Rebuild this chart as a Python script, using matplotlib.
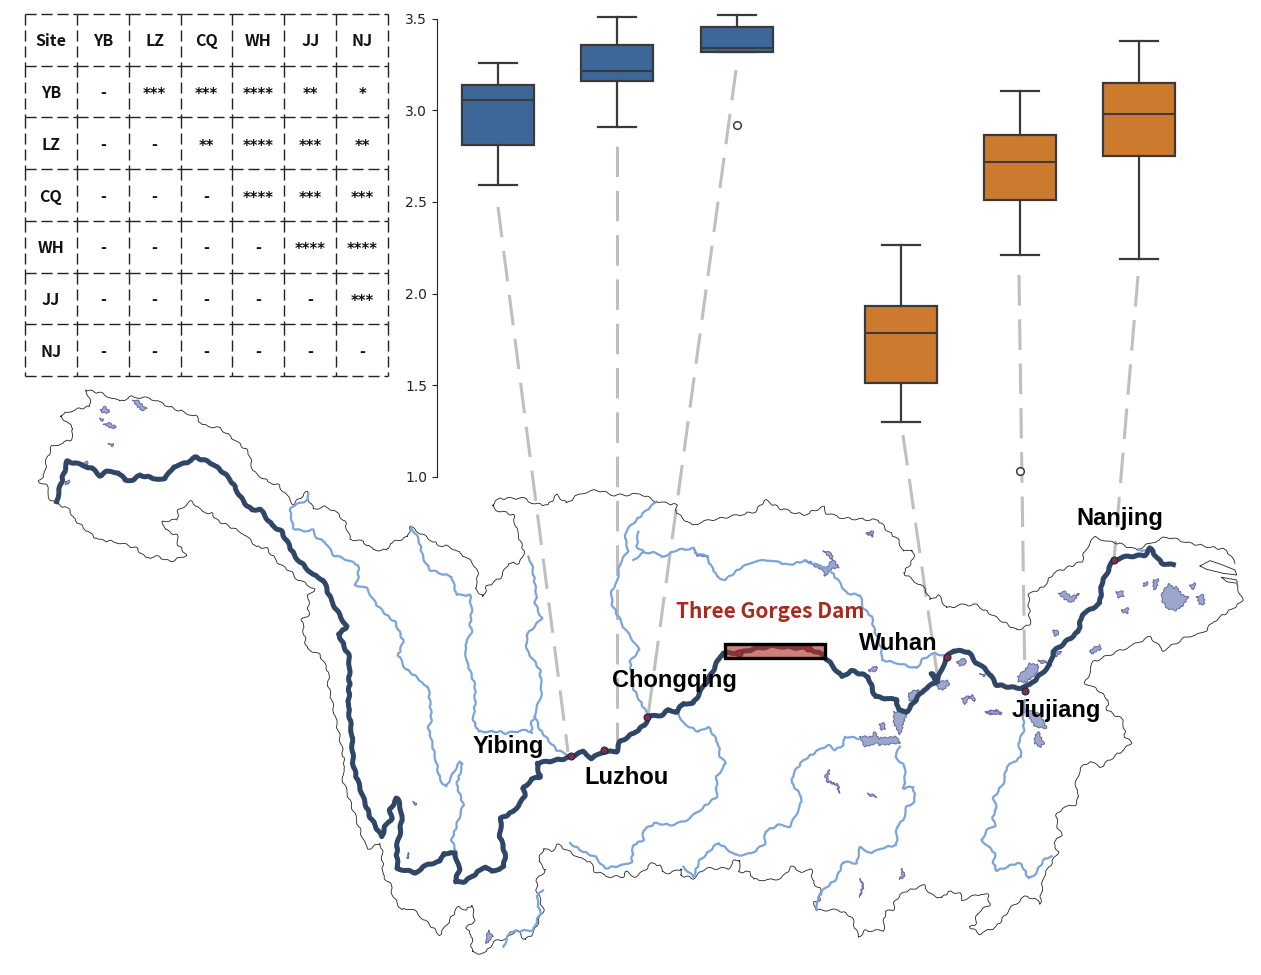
"""
Box plots of six Yangtze sites, with their significance table and the basin map
"""

import matplotlib
matplotlib.use("Agg")
import matplotlib.pyplot as plt
from matplotlib.patches import Polygon, Rectangle

W, H = 1261, 975

# Box plot values
sites = ["YB", "LZ", "CQ", "WH", "JJ", "NJ"]
box_pos = [498, 617, 737, 901, 1020, 1139]
whislo = [2.59, 2.91, 3.32, 1.30, 2.21, 2.19]
q1 = [2.81, 3.16, 3.32, 1.51, 2.51, 2.75]
med = [3.055, 3.215, 3.34, 1.785, 2.72, 2.98]
q3 = [3.14, 3.355, 3.455, 1.93, 2.865, 3.15]
whishi = [3.26, 3.51, 3.52, 2.265, 3.105, 3.375]
fliers = [[], [], [2.92], [], [1.03], []]
box_colors = ["#3d6799", "#3d6799", "#3d6799", "#cc7b2e", "#cc7b2e", "#cc7b2e"]
yticks = [1.0, 1.5, 2.0, 2.5, 3.0, 3.5]

# Significance table
table_header = ["Site", "YB", "LZ", "CQ", "WH", "JJ", "NJ"]
table_rows = [
    ["YB", "-", "***", "***", "****", "**", "*"],
    ["LZ", "-", "-", "**", "****", "***", "**"],
    ["CQ", "-", "-", "-", "****", "***", "***"],
    ["WH", "-", "-", "-", "-", "****", "****"],
    ["JJ", "-", "-", "-", "-", "-", "***"],
    ["NJ", "-", "-", "-", "-", "-", "-"],
]

# Map outlines, traced in image pixels (x0, y0 is the corner of each 3x trace)
def trace(x0, y0, pts):
    return [(x0 + x/3., y0 + y/3.) for x, y in pts]

boundary = (
    trace(30, 385, [(167,15),(180,40),(178,65),(130,75),(90,92),(130,130),(122,165),(65,185),(48,230),
                    (45,265),(27,290),(50,300),(60,345),(120,375),(130,400),(180,445),(205,465),(255,470),
                    (290,480),(320,490),(345,518),(385,515),(420,530),(470,510),(445,480),(440,450),(405,435),
                    (398,408),(440,405),(445,375),(485,348),(515,380),(545,385),(560,405),(600,425),(640,445),
                    (680,485),(710,490),(750,540),(785,560),(790,575),(855,612),(835,630),(835,690),(815,705),
                    (830,790),(870,810),(895,860),(895,900)])
    + trace(340, 680, [(5,200),(15,260),(5,290),(25,350),(50,420),(75,495),(85,507),(120,490),(125,500),(130,590),
                       (150,610),(160,650),(185,690),(215,685),(270,735),(300,765),(355,680),(380,690),(395,675),
                       (405,720),(378,745),(395,765),(395,815),(415,820),(440,815),(460,785),(500,775),(530,750),
                       (555,780),(580,760),(610,690),(590,630),(590,600),(618,570),(595,545),(610,505),(635,515),
                       (652,493),(720,535),(750,545),(765,575),(810,590),(850,590),(860,575),(885,590),(910,575),
                       (935,550),(960,555),(965,575),(990,580),(1025,565),(1020,585),(1060,595),(1095,565),
                       (1165,565),(1185,540),(1200,540),(1195,575)])
    + trace(740, 700, [(30,517),(40,538),(85,540),(125,535),(155,500),(185,515),(215,510),(220,550),(240,565),
                       (240,600),(222,605),(230,630),(295,630),(335,650),(355,712),(375,692),(430,692),(435,635),
                       (460,630),(465,600),(495,575),(555,555),(565,580),(605,595),(625,575),(660,580),(665,600),
                       (720,582),(745,585),(748,615),(710,640),(708,670),(690,682),(720,702),(770,680),(810,625),
                       (855,590),(885,595),(900,612),(905,570),(910,530),(955,455),(940,430),(965,405),(950,375),
                       (950,345),(965,325),(1005,315),(1018,290),(1005,260),(1020,205),(1050,183),(1080,203),
                       (1115,175),(1175,130),(1155,110),(1150,60),(1100,30),(1105,0)])
    + trace(760, 480, [(1015,630),(975,610),(990,575),(1000,545),(1120,495),(1170,470),(1210,512),(1280,470),
                       (1330,460),(1360,425),(1440,370),(1447,360),(1430,315)])
)

# The coast is open at the river mouth, so the north side is a line of its own
boundary_north = (
    trace(760, 480, [(1425,250),(1400,210),(1290,190),
                     (1220,170),(1170,190),(1130,210),(1075,190),(1040,185),(1005,170),(975,210),(965,245),
                     (880,280),(850,320),(805,345),(810,435),(770,450),(720,420),(650,375),(600,375),(560,385),
                     (535,345),(510,360),(495,325),(430,280),(462,235),(458,210),(430,215),(415,180),(380,150),
                     (355,120),(250,115),(200,100),(190,80),(130,105),(60,85),(15,60)])
    + trace(480, 480, [(825,95),(750,110),(690,120),(635,135),(590,100),(590,75),(530,65),(480,40),(440,45),
                       (400,45),(350,30),(300,40),(260,70),(230,45),(205,75),(165,72),(130,55),(60,55),(35,75),
                       (50,90),(100,105),(110,150),(132,215),(120,250),(85,250),(60,295),(20,320),(10,350)])
    + trace(30, 385, [(1335,610),(1345,570),(1330,535),(1305,515),(1260,485),(1225,480),(1180,450),(1140,425),
                      (1135,455),(1080,475),(1070,495),(1030,495),(1000,470),(960,462),(945,410),(915,378),
                      (885,365),(850,372),(835,340),(830,320),(790,358),(745,300),(715,290),(670,260),(655,200),
                      (620,170),(570,130),(515,120),(500,95),(430,70),(360,40),(300,35),(270,50),(215,25),(167,15)])
)

# Islands in the river mouth
mouth_isles = [
    trace(760, 480, [(1320,258),(1350,242),(1380,252),(1425,270),(1430,285),(1390,280),(1340,268)]),
    trace(760, 480, [(1385,292),(1430,300),(1432,310),(1400,305)]),
]

main_river = (
    trace(30, 385, [(80,350),(85,325),(100,270),(112,228),(155,240),(185,250),(210,272),(230,260),(265,262),
                    (285,285),(310,285),(330,270),(370,280),(405,282),(430,245),(465,235),(497,217),(540,232),
                    (580,262),(605,290),(640,350),(665,375),(690,372),(725,420),(755,440),(795,515),(850,570),
                    (880,585),(905,650),(950,725),(935,740),(925,745),(945,790),(958,815),(958,900)])
    + trace(340, 680, [(25,80),(35,160),(40,260),(65,340),(90,410),(125,470),(135,440),(155,415),(150,390),(170,355),
                       (180,370),(185,420),(178,470),(170,500),(172,565),(225,578),(265,552),(300,545),(310,520),
                       (345,520),(358,570),(345,605),(375,605),(435,560),(455,575),(492,560),(495,520),(480,470),
                       (483,415),(520,395),(555,350),(550,325),(575,298),(600,290),(590,250),(680,235),(730,215),
                       (755,235),(790,215),(830,215),(840,185),(880,160),(915,135),(925,110),(965,105),(985,90),
                       (1010,95),(1030,70),(1060,70),(1090,20)])
    + trace(480, 480, [(690,590),(720,530),(730,520),(780,518),(830,505),(880,498),(985,505),(1030,525)])
    + trace(760, 480, [(245,590),(275,572),(325,590),(345,650),(410,660),(415,690),(440,695),(490,630),(530,605),
                       (515,580),(530,605),(560,530),(580,512),(625,515),(650,550),(680,570),(710,615),(775,625),
                       (810,615),(870,555),(880,515),(955,455),(965,405),(1020,370),(1025,310),(1060,240),(1100,230),
                       (1155,225),(1170,205),(1205,250),(1240,255)])
)

tributaries = [
    trace(30, 385, [(835,325),(835,345),(790,362),(780,375),(790,430),(815,438),(850,435),(860,460),(885,470),
                    (910,510),(940,520),(985,540),(985,575),(975,600),(1010,610),(1040,660),(1080,700),(1095,710),
                    (1120,770),(1105,810),(1125,850),(1165,880),(1180,900)])
    + trace(340, 680, [(265,20),(275,120),(265,140),(285,230),(300,300),(318,320),(345,270),(360,245),(368,250),
                       (350,315),(370,375),(335,480),(348,515)]),
    trace(30, 385, [(1142,425),(1165,460),(1180,520),(1200,555),(1265,575),(1280,630),(1320,630),(1325,680),
                    (1320,720),(1325,740),(1305,780),(1310,830),(1335,900)])
    + trace(340, 680, [(405,70),(400,120),(415,155),(480,155),(495,160),(560,150),(575,160),(575,125),(585,110)]),
    trace(480, 480, [(145,230),(155,250),(170,345),(165,370),(185,415),(140,465),(140,510),(180,570),(185,640),(165,700)])
    + trace(340, 680, [(585,110),(600,150),(650,210),(690,225)]),
    trace(480, 480, [(530,65),(500,90),(440,150),(435,175),(445,210),(420,250),(410,310),(395,330),(395,370),
                     (430,440),(465,490),(478,510),(450,545),(460,625),(500,700)]),
    trace(480, 480, [(475,155),(470,200),(490,215)]),
    trace(480, 480, [(460,240),(490,218),(530,218),(545,232),(590,210),(640,205),(650,220),(685,230),(685,250),
                     (700,265),(710,290),(735,300),(780,265),(820,245),(870,240),(925,255),(975,242),(1050,270)])
    + trace(760, 480, [(240,310),(260,340),(300,345),(310,385),(335,410),(340,440),(365,510),(365,540),(415,550),
                       (470,565),(490,535),(525,520),(560,530)]),
    trace(340, 680, [(1015,100),(1030,130),(1075,155),(1105,140),(1135,190),(1140,230),(1158,250),(1130,290),
                     (1130,350),(1080,390),(1040,420),(1000,435),(945,430),(910,450),(910,480),(880,495),(875,545),
                     (850,555),(795,565),(765,530),(730,515),(690,490)]),
    trace(340, 680, [(1030,560),(1060,590),(1080,540),(1135,488),(1185,525),(1210,525)])
    + trace(740, 700, [(35,460),(75,430),(75,395),(115,375),(150,380),(180,320),(185,290),(155,250),(160,220),
                       (190,180),(245,145),(265,135),(285,150),(310,135),(315,110),(355,115)]),
    trace(740, 700, [(480,140),(465,170),(495,200),(495,240),(490,265),(520,260),(525,305),(500,320),(490,360),
                     (470,380),(470,435),(420,445),(395,460),(360,442),(350,490),(310,485),(290,535),(245,575),
                     (228,610),(232,630)]),
    trace(740, 700, [(855,0),(850,55),(852,90),(835,130),(845,170),(800,200),(790,250),(760,295),(770,325),(758,350),
                     (765,378),(740,390),(725,420),(765,460),(760,490),(770,512),(830,490),(845,492),(865,535),
                     (880,530),(915,475),(935,470)]),
    trace(340, 680, [(490,800),(510,755),(580,750),(600,700),(590,650),(608,630)]),
    trace(760, 480, [(1135,210),(1160,210)]),
]

lakes = [
    trace(30, 385, [(210,75),(225,65),(240,80),(220,85)]),
    trace(30, 385, [(208,100),(220,102),(215,108)]),
    trace(30, 385, [(220,117),(240,115),(260,125),(245,130)]),
    trace(30, 385, [(235,175),(250,178),(245,185)]),
    trace(30, 385, [(307,45),(325,48),(350,72),(335,77)]),
    trace(30, 385, [(105,290),(118,285),(115,298),(105,298)]),
    trace(30, 385, [(155,235),(172,230),(172,240)]),
    trace(760, 480, [(1205,340),(1220,320),(1228,310),(1240,325),(1250,320),(1265,345),(1285,350),(1270,375),
                     (1245,393),(1220,385),(1205,360)]),
    trace(760, 480, [(895,340),(915,335),(935,350),(958,340),(935,368),(915,358)]),
    trace(760, 480, [(1068,335),(1090,335),(1090,350),(1075,352)]),
    trace(760, 480, [(1085,390),(1105,385),(1105,400),(1090,398)]),
    trace(760, 480, [(1150,310),(1162,305),(1160,318),(1152,320)]),
    trace(760, 480, [(1180,300),(1195,298),(1190,325),(1180,328)]),
    trace(760, 480, [(1290,315),(1305,310),(1305,325),(1295,328)]),
    trace(760, 480, [(1310,350),(1330,345),(1335,370),(1320,375)]),
    trace(760, 480, [(880,450),(892,450),(895,465),(882,468)]),
    trace(760, 480, [(990,510),(1020,495),(1025,505),(995,522)]),
    trace(760, 480, [(772,590),(790,575),(810,550),(835,555),(830,580),(800,605),(775,605)]),
    trace(760, 480, [(835,540),(860,545),(865,550),(840,548)]),
    trace(760, 480, [(880,520),(905,515),(890,530)]),
    trace(760, 480, [(590,545),(615,535),(620,550),(600,558)]),
    trace(760, 480, [(660,580),(675,585),(670,590)]),
    trace(760, 480, [(530,610),(560,600),(570,610),(550,630),(535,625)]),
    trace(760, 480, [(445,640),(475,628),(475,650),(450,665)]),
    trace(760, 480, [(605,655),(640,645),(645,665),(625,650),(615,675)]),
    trace(760, 480, [(675,695),(710,690),(725,700),(690,702)]),
    trace(760, 480, [(320,158),(335,155),(340,170),(325,165)]),
    trace(760, 480, [(325,570),(350,558),(352,572),(330,575)]),
    trace(740, 700, [(358,110),(395,110),(405,95),(415,115),(470,110),(480,130),(420,135),(410,130),(375,140)]),
    trace(740, 700, [(460,35),(500,40),(490,70),(480,105),(462,70)]),
    trace(740, 700, [(418,72),(430,68),(437,85),(425,92)]),
    trace(740, 700, [(860,30),(900,40),(920,85),(885,80),(870,55)]),
    trace(740, 700, [(885,105),(895,95),(912,130),(900,142),(885,130)]),
    trace(740, 700, [(740,35),(775,32),(785,42),(750,42)]),
    trace(740, 700, [(255,225),(270,210),(262,240),(295,255),(298,280),(290,255),(258,245)]),
    trace(740, 700, [(382,280),(410,288),(410,292),(385,285)]),
    trace(740, 700, [(360,535),(372,560),(358,592),(368,560)]),
    trace(740, 700, [(485,505),(495,530),(478,540),(485,525)]),
    trace(340, 680, [(218,365),(230,370),(225,375)]),
    trace(340, 680, [(200,535),(207,518),(205,535)]),
    trace(340, 680, [(438,780),(445,750),(458,770),(440,792)]),
    trace(480, 480, [(1030,212),(1055,220),(1060,240),(1078,262),(1055,265),(1035,290),(1030,270),(1005,260),
                     (975,242),(1005,250),(1040,265),(1055,240)]),
    trace(480, 480, [(1160,158),(1180,155),(1180,168),(1165,162)]),
    trace(480, 480, [(640,205),(650,222),(685,230),(650,226)]),
]

site_x = [570.7, 604, 647.3, 947, 1025, 1114]
site_y = [756, 749.7, 716.7, 656.7, 690.7, 560]
dam_x = [739.3, 808.3]
dam_y = [652.7, 647.7]

# Dashed links from each box down to its site
link_x = [(498, 568), (617, 617), (736, 648), (903, 938), (1019, 1025), (1138, 1114)]
link_y = [(207, 752), (146, 747), (70, 716), (435, 680), (275, 690), (276, 560)]

place_names = ["Yibing", "Luzhou", "Chongqing", "Wuhan", "Jiujiang", "Nanjing"]
name_x = [508, 626, 674, 898, 1056, 1120]
name_y = [747, 777, 680, 643, 711, 519]

fig = plt.figure(figsize=(W/100., H/100.), dpi=100)

# Map axes use image pixels directly
ax = fig.add_axes([0, 0, 1, 1])
ax.set_xlim(0, W)
ax.set_ylim(H, 0)
ax.axis("off")

for xs, ys in zip(link_x, link_y):
    ax.plot(xs, ys, color="#bfbfbf", lw=2.2, dashes=(10, 4.5), zorder=1)

# Sketch params put back the small wiggle of the real outlines
for part in [boundary, boundary_north]:
    line, = ax.plot(*zip(*part), color="#222222", lw=0.6, zorder=2)
    line.set_sketch_params(scale=1.0, length=16, randomness=3)
for isle in mouth_isles:
    ax.plot(*zip(*(isle + isle[:1])), color="#222222", lw=0.6, zorder=2)

for lake in lakes:
    patch = ax.add_patch(Polygon(lake, closed=True, fc="#9aa8cc", ec="#6a68a6", lw=0.7, zorder=3))
    patch.set_sketch_params(scale=0.8, length=6, randomness=3)
for trib in tributaries:
    line, = ax.plot(*zip(*trib), color="#7ba4d9", lw=1.6, zorder=3)
    line.set_sketch_params(scale=0.7, length=14, randomness=3)
line, = ax.plot(*zip(*main_river), color="#2f4666", lw=3.6, zorder=4, solid_joinstyle="round")
line.set_sketch_params(scale=0.7, length=18, randomness=3)

ax.plot(site_x, site_y, "o", ms=5, mfc="#7b2f55", mec="#2a2233", mew=0.8, zorder=5)
ax.plot(dam_x, dam_y, "o", ms=5, mfc="#7b2f55", mec="#2a2233", mew=0.8, zorder=5)

ax.add_patch(Rectangle((724.5, 643.5), 100.5, 14.5, fc="#b13225", ec="none", alpha=0.62, zorder=6))
ax.add_patch(Rectangle((724.5, 643.5), 100.5, 14.5, fc="none", ec="black", lw=2.4, zorder=7))

for name, x, y in zip(place_names, name_x, name_y):
    ax.text(x, y, name, family="Liberation Sans", weight="bold", fontsize=17, color="black",
            ha="center", va="center", zorder=8)
ax.text(770, 612, "Three Gorges Dam", family="Noto Sans CJK SC", weight="bold", fontsize=15, color="#a82a1e",
        ha="center", va="center", zorder=8)

# Box plot axes: x in image pixels, y in data units
ax_box = fig.add_axes([437./W, 1 - 477./H, (W - 437.)/W, 458.5/H])
ax_box.patch.set_alpha(0)
ax_box.set_xlim(437, W)
ax_box.set_ylim(1.0, 3.5)

stats = []
for i, site in enumerate(sites):
    stats.append({"label": site, "whislo": whislo[i], "q1": q1[i], "med": med[i], "q3": q3[i],
                  "whishi": whishi[i], "fliers": fliers[i]})
line_col = "#3a3a3a"
parts = ax_box.bxp(stats, positions=box_pos, widths=72, capwidths=38, patch_artist=True, manage_ticks=False,
                   boxprops=dict(edgecolor=line_col, linewidth=1.6),
                   medianprops=dict(color=line_col, linewidth=1.5),
                   whiskerprops=dict(color=line_col, linewidth=1.6),
                   capprops=dict(color=line_col, linewidth=1.6),
                   flierprops=dict(marker="o", mfc="white", mec=line_col, ms=5.5, mew=1.1))
for box, col in zip(parts["boxes"], box_colors):
    box.set_facecolor(col)
for group in parts.values():
    for artist in group:
        artist.set_clip_on(False)

for side in ["top", "right", "bottom"]:
    ax_box.spines[side].set_visible(False)
ax_box.spines["left"].set_color("#222222")
ax_box.set_xticks([])
ax_box.set_yticks(yticks)
ax_box.set_yticklabels(["%.1f" % y for y in yticks])
ax_box.tick_params(axis="y", labelsize=10, length=3.5, color="#222222", labelcolor="#222222")

# Significance table, one unit per cell, each cell edge dashed on its own
ax_tab = fig.add_axes([25./W, 1 - 376./H, 363./W, 362./H])
ax_tab.set_xlim(0, 7)
ax_tab.set_ylim(7, 0)
ax_tab.axis("off")
for i in range(8):
    for j in range(7):
        ax_tab.plot([j, j + 1], [i, i], color="#222222", lw=1.0, dashes=(8, 3.5), clip_on=False)
        ax_tab.plot([i, i], [j, j + 1], color="#222222", lw=1.0, dashes=(8, 3.5), clip_on=False)
for row, cells in enumerate([table_header] + table_rows):
    for col, cell in enumerate(cells):
        if row == 0 or col == 0 or cell == "-":
            ax_tab.text(col + 0.5, row + 0.53, cell, family="Noto Sans CJK SC", weight="bold", fontsize=11.5,
                        ha="center", va="center", color="#111111")
        else:
            ax_tab.text(col + 0.5, row + 0.56, cell, family="DejaVu Sans", weight="bold", fontsize=10.5,
                        ha="center", va="center", color="#111111")

fig.savefig("out.png", dpi=100)
